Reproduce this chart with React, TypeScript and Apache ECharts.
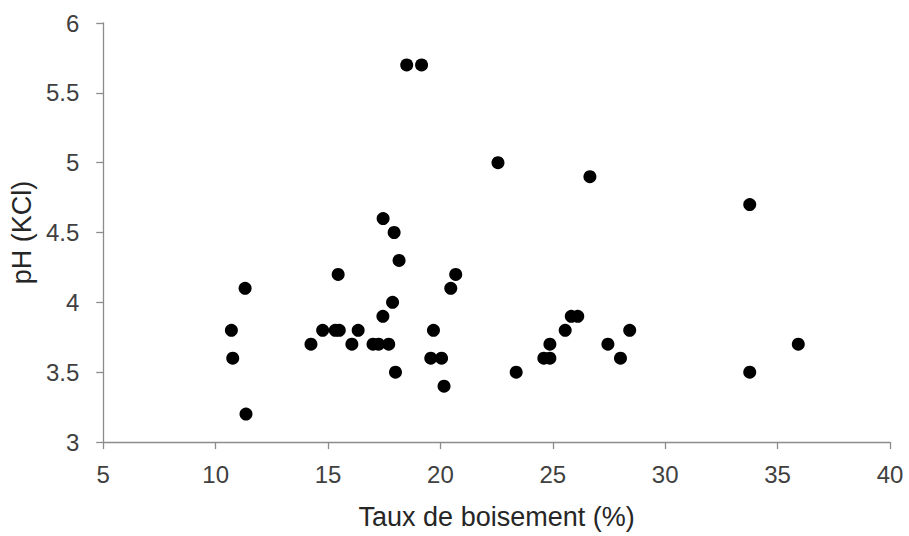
import React, { useEffect, useRef } from "react";
import * as echarts from "echarts";

const xValues: number[] = [
  10.7, 10.76, 11.31, 11.35, 14.24, 14.76, 15.32, 15.45, 15.5, 16.06,
  16.34, 17.0, 17.25, 17.7, 17.44, 17.87, 18.0, 19.69, 19.57, 20.05,
  20.16, 20.46, 20.68, 18.16, 17.94, 17.45, 18.5, 19.16, 22.56, 26.65,
  33.76, 23.37, 33.76, 24.6, 24.87, 28.01, 24.87, 27.45, 35.92, 25.55,
  28.42, 25.82, 26.11,
];
const yValues: number[] = [
  3.8, 3.6, 4.1, 3.2, 3.7, 3.8, 3.8, 4.2, 3.8, 3.7,
  3.8, 3.7, 3.7, 3.7, 3.9, 4.0, 3.5, 3.8, 3.6, 3.6,
  3.4, 4.1, 4.2, 4.3, 4.5, 4.6, 5.7, 5.7, 5.0, 4.9,
  4.7, 3.5, 3.5, 3.6, 3.6, 3.6, 3.7, 3.7, 3.7, 3.8,
  3.8, 3.9, 3.9,
];
const xAxisTitle = "Taux de boisement (%)";
const yAxisTitle = "pH (KCl)";

export default function App() {
  const ref = useRef<HTMLDivElement>(null);
  useEffect(() => {
    if (!ref.current) return;
    const chart = echarts.init(ref.current, null, { renderer: "svg" });
    const font = "'Liberation Sans', Arial, sans-serif";
    chart.setOption({
      animation: false,
      backgroundColor: "#ffffff",
      grid: { left: 102, right: 19, top: 23, bottom: 94 },
      xAxis: {
        type: "value",
        min: 5,
        max: 40,
        interval: 5,
        name: xAxisTitle,
        nameLocation: "middle",
        nameGap: 61,
        nameTextStyle: { color: "#262626", fontSize: 27, fontFamily: font },
        axisLine: { show: true, lineStyle: { color: "#8c8c8c", width: 1.3 } },
        axisTick: { show: true, length: 7, lineStyle: { color: "#8c8c8c", width: 1.3 } },
        axisLabel: { color: "#404040", fontSize: 24, fontFamily: font, margin: 20 },
        splitLine: { show: false },
      },
      yAxis: {
        type: "value",
        min: 3,
        max: 6,
        interval: 0.5,
        name: yAxisTitle,
        nameLocation: "middle",
        nameGap: 67,
        nameTextStyle: { color: "#262626", fontSize: 27, fontFamily: font },
        axisLine: { show: true, lineStyle: { color: "#8c8c8c", width: 1.3 } },
        axisTick: { show: true, length: 7, lineStyle: { color: "#8c8c8c", width: 1.3 } },
        axisLabel: { color: "#404040", fontSize: 24, fontFamily: font, margin: 24 },
        splitLine: { show: false },
      },
      series: [
        {
          type: "scatter",
          data: xValues.map((x, i) => [x, yValues[i]]),
          symbol: "circle",
          symbolSize: 13,
          itemStyle: { color: "#000000", opacity: 1 },
        },
      ],
    });
    return () => chart.dispose();
  }, []);
  return <div ref={ref} style={{ width: 909, height: 536, position: "absolute", left: 0, top: 0 }} />;
}
